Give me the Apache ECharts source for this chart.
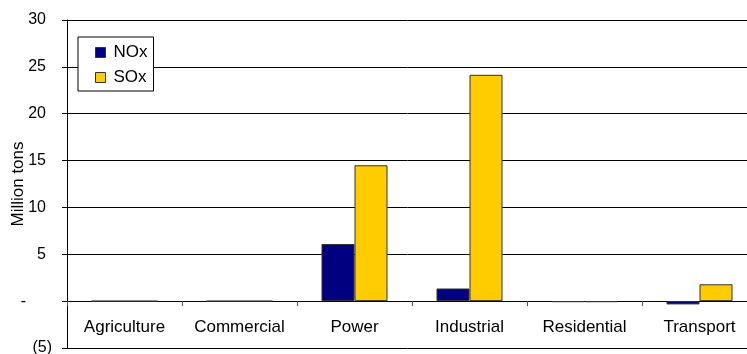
<!DOCTYPE html>
<html>
<head>
<meta charset="utf-8">
<script src="https://cdn.jsdelivr.net/npm/echarts@6/dist/echarts.min.js"></script>
<style>
  html, body { margin: 0; padding: 0; background: #fff; }
  #chart { width: 747px; height: 354px; }
</style>
</head>
<body>
<div id="chart"></div>
<script>
// Emissions by sector, million tons
const sectors = ['Agriculture', 'Commercial', 'Power', 'Industrial', 'Residential', 'Transport'];
const noxValues = [0, 0, 6.1, 1.35, -0.1, -0.35];
const soxValues = [0, 0, 14.5, 24.15, -0.1, 1.8];
const seriesNames = ['NOx', 'SOx'];
const yAxisTitle = 'Million tons';

const font = '"Liberation Sans", Arial, sans-serif';

// Accounting-style tick labels: positives padded for the closing paren,
// zero shown as a dash set back further, negatives in parentheses.
function formatTick(v) {
  if (v === 0) return '{z|-}';
  if (v < 0) return '{n|(' + Math.abs(v) + ')}';
  return '{p|' + v + '}';
}

const chart = echarts.init(document.getElementById('chart'), null, { renderer: 'canvas' });

const tickText = { fontFamily: font, fontSize: 16, color: '#000' };

chart.setOption({
  animation: false,
  backgroundColor: '#fff',
  textStyle: { fontFamily: font },
  grid: { left: 67, top: 20, right: -10, bottom: 6, containLabel: false, outerBoundsMode: 'none' },
  legend: {
    orient: 'vertical',
    left: 78,
    top: 37,
    data: seriesNames,
    backgroundColor: '#fff',
    borderColor: '#000',
    borderWidth: 1,
    padding: [7, 6, 5, 17],
    itemGap: 8,
    itemWidth: 10,
    itemHeight: 10,
    icon: 'rect',
    textStyle: { fontFamily: font, fontSize: 17, color: '#000', padding: [0, 0, 0, 3] },
    itemStyle: { borderColor: '#333', borderWidth: 1 }
  },
  xAxis: {
    type: 'category',
    data: sectors,
    axisLine: { onZero: true, lineStyle: { color: '#000', width: 1 } },
    axisTick: { show: true, length: 5, interval: 0, lineStyle: { color: '#555' } },
    axisLabel: { fontFamily: font, fontSize: 17, color: '#000', margin: -29, interval: 0 },
    splitLine: { show: false }
  },
  yAxis: {
    type: 'value',
    min: -5,
    max: 30,
    interval: 5,
    name: yAxisTitle,
    nameLocation: 'middle',
    nameGap: 40,
    nameMoveOverlap: false,
    nameTextStyle: { fontFamily: font, fontSize: 17, color: '#000' },
    axisLine: { show: true, lineStyle: { color: '#000', width: 1 } },
    axisTick: { show: true, length: 5, lineStyle: { color: '#000' } },
    axisLabel: {
      margin: 15,
      formatter: formatTick,
      rich: {
        p: Object.assign({ padding: [0, 6, 0, 0] }, tickText),
        z: Object.assign({ padding: [0, 26, 0, 0] }, tickText),
        n: Object.assign({ padding: [0, 0, 0, 0] }, tickText)
      }
    },
    splitLine: { show: true, lineStyle: { color: '#000', width: 1 } }
  },
  series: [
    {
      name: seriesNames[0],
      type: 'bar',
      data: noxValues,
      barWidth: 33,
      barGap: '0%',
      itemStyle: { color: '#000080', borderColor: '#333', borderWidth: 1 }
    },
    {
      name: seriesNames[1],
      type: 'bar',
      data: soxValues,
      barWidth: 33,
      barGap: '0%',
      itemStyle: { color: '#FFCC00', borderColor: '#333', borderWidth: 1 }
    }
  ]
});
</script>
</body>
</html>
